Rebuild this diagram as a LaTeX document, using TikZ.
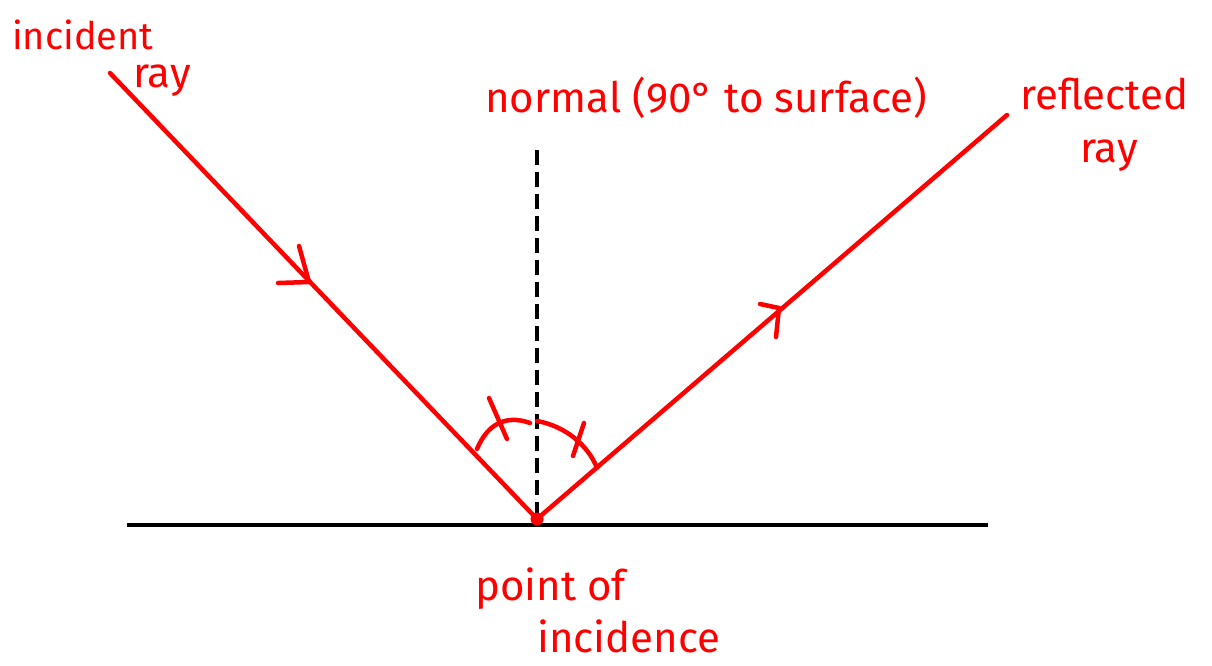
\documentclass[tikz,border=0pt]{standalone}
\usepackage{fontspec}
\setmainfont{Fira Sans}
\definecolor{penred}{RGB}{255,0,0}
\begin{document}
\begin{tikzpicture}[x=1pt,y=-1pt,
  ray/.style={draw=penred,line width=4.5pt,line cap=round},
  pen/.style={draw=penred,line width=4.5pt,line cap=round,line join=round},
  lbl/.style={text=penred,font=\fontsize{42}{44}\selectfont,inner sep=0pt,anchor=base west}]
\useasboundingbox[fill=white] (0,0) rectangle (1212,666);
% coordinates
\coordinate (P) at (537,519);
\coordinate (A) at (110,73);
\coordinate (B) at (1007,115);
\coordinate (S1) at (127,525);
\coordinate (S2) at (988,525);
\coordinate (N1) at (537,150);
\coordinate (N2) at (537,515);
% surface
\draw[line width=4.5pt] (S1) -- (S2);
% normal
\draw[line width=4.5pt,dash pattern=on 15pt off 7pt] (N1) -- (N2);
% rays
\draw[ray] (A) -- (P);
\draw[ray] (P) -- (B);
% arrowheads
\coordinate (ah1) at (309,282);
\draw[pen] (299,246) -- (ah1) -- (278,283);
\coordinate (ah2) at (779,308);
\draw[pen] (760,304) -- (ah2) -- (776,337);
% point dot
\fill[penred] (P) circle (6.5pt);
% angle arcs
\draw[pen] (477,449) .. controls (487,425) and (505,414) .. (530,423);
\draw[pen] (537,421) .. controls (565,426) and (588,445) .. (597,468);
% ticks
\draw[pen] (489,398) -- (507,439);
\draw[pen] (584,423) -- (573,456);
% labels
\node[lbl,font=\fontsize{38}{40}\selectfont] (tinc) at (12,50) {incident};
\node[lbl] (tray1) at (133,88) {ray};
\node[lbl] (tnorm) at (485,113) {normal (90° to surface)};
\node[lbl] (tref) at (1020,110) {reflected};
\node[lbl] (tray2) at (1080,162) {ray};
\node[lbl] (tpoint) at (475,600) {point of};
\node[lbl] (tincid) at (537,652) {incidence};
\end{tikzpicture}
\end{document}
